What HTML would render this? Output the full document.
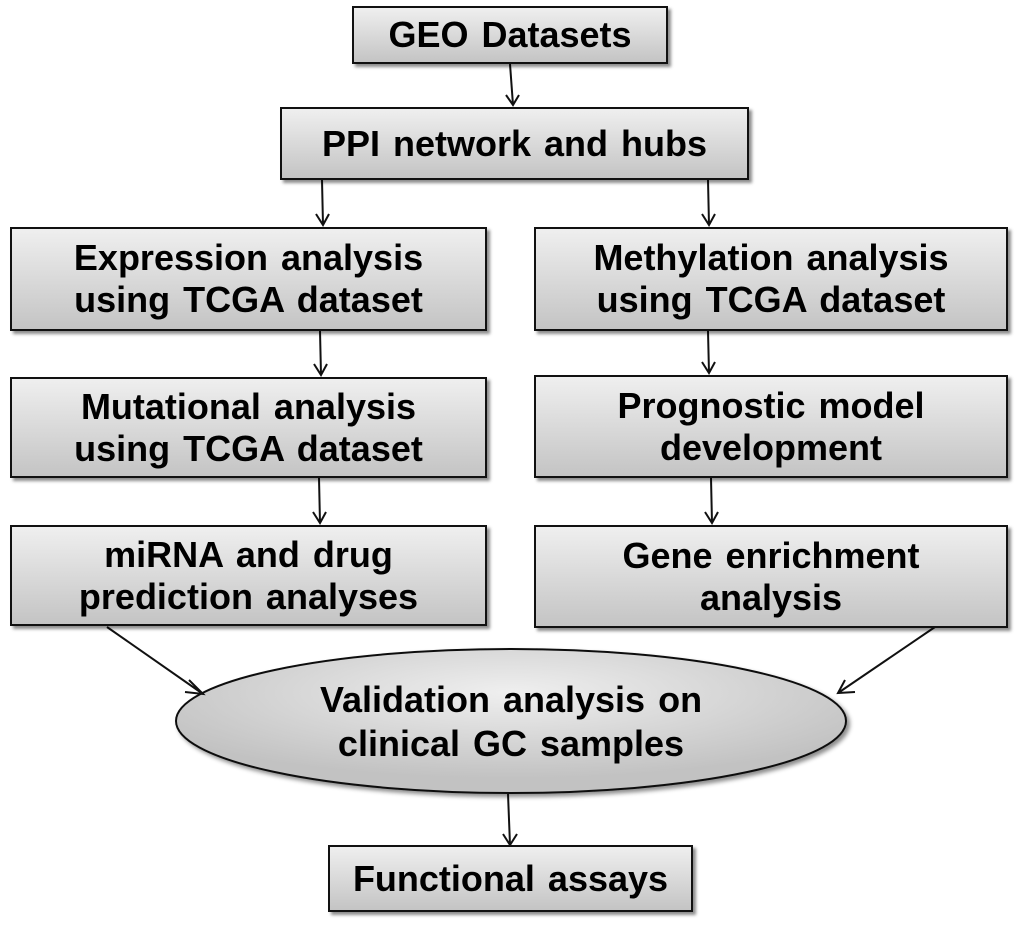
<!DOCTYPE html>
<html><head><style>
body{margin:0;width:1020px;height:926px;background:#fff;position:relative;overflow:hidden;font-family:"Liberation Sans",Arial,sans-serif;}
.b{position:absolute;box-sizing:border-box;border:2px solid #111;background:linear-gradient(#efefef,#c4c4c4);box-shadow:3px 3px 3px rgba(0,0,0,0.45);display:flex;align-items:center;justify-content:center;text-align:center;font-weight:bold;font-size:36px;line-height:42px;color:#000;word-spacing:3px;white-space:nowrap;}
svg{position:absolute;left:0;top:0;}
</style></head><body>
<svg width="1020" height="926">
<defs><radialGradient id="g" cx="50%" cy="30%" r="60%"><stop offset="0" stop-color="#efefef"/><stop offset="1" stop-color="#c2c2c2"/></radialGradient>
<filter id="s"><feDropShadow dx="3" dy="3" stdDeviation="2" flood-opacity="0.45"/></filter></defs>
<ellipse cx="511" cy="721" rx="335" ry="72" fill="url(#g)" stroke="#111" stroke-width="2" filter="url(#s)"/>
<g stroke="#111" stroke-width="2" fill="none">
<path d="M510 64 L513 105 M506 95 L513 105 L519 95"/>
<path d="M322 180 L323 225 M316 214 L323 225 L329 214"/>
<path d="M708 180 L709 225 M702 214 L709 225 L715 214"/>
<path d="M320 331 L321 375 M314 364 L321 375 L327 364"/>
<path d="M708 331 L709 373 M702 362 L709 373 L715 362"/>
<path d="M319 478 L320 523 M313 512 L320 523 L326 512"/>
<path d="M711 478 L712 523 M705 512 L712 523 L718 512"/>
<path d="M107 627 L203 694 M189 680 L203 694 L185 692"/>
<path d="M935 627 L838 693 M845 680 L838 693 L855 692"/>
<path d="M508 794 L510 845 M503 834 L510 845 L517 834"/>
</g>
<text x="511" y="712" text-anchor="middle" font-family="Liberation Sans,Arial,sans-serif" font-weight="bold" font-size="36" word-spacing="3">Validation analysis on</text>
<text x="511" y="756" text-anchor="middle" font-family="Liberation Sans,Arial,sans-serif" font-weight="bold" font-size="36" word-spacing="3">clinical GC samples</text>
</svg>
<div class="b" style="left:352px;top:6px;width:316px;height:58px;">GEO Datasets</div>
<div class="b" style="left:280px;top:107px;width:469px;height:73px;">PPI network and hubs</div>
<div class="b" style="left:10px;top:227px;width:477px;height:104px;">Expression analysis<br>using TCGA dataset</div>
<div class="b" style="left:534px;top:227px;width:474px;height:104px;">Methylation analysis<br>using TCGA dataset</div>
<div class="b" style="left:10px;top:377px;width:477px;height:101px;">Mutational analysis<br>using TCGA dataset</div>
<div class="b" style="left:534px;top:375px;width:474px;height:103px;">Prognostic model<br>development</div>
<div class="b" style="left:10px;top:525px;width:477px;height:101px;">miRNA and drug<br>prediction analyses</div>
<div class="b" style="left:534px;top:525px;width:474px;height:103px;">Gene enrichment<br>analysis</div>
<div class="b" style="left:328px;top:845px;width:365px;height:67px;">Functional assays</div>
</body></html>
